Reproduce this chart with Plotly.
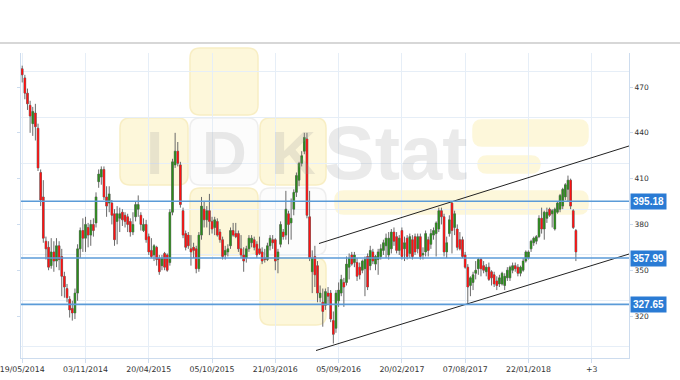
import pandas as pd
import plotly.graph_objects as go

# ---------------- data ----------------
start_date = "2014-05-19"   # weekly candles

opens = [482,476,466,458,446,453,443,414,398,369,365,353,362,356,366,359,346,338,331,325,
         322,335,364,376,371,378,373,380,381,408,411,416,398,394,394,387,382,384,388,386,
         385,382,375,385,390,386,376,380,372,363,360,365,358,353,361,360,355,388,419,428,
         419,389,374,373,364,365,364,351,373,390,383,389,382,378,382,375,370,360,362,366,
         376,374,374,364,360,358,364,368,370,367,364,362,358,357,366,370,370,357,367,375,
         373,387,381,390,401,409,420,428,436,385,349,359,353,332,329,327,335,335,317,312,
         330,335,342,342,352,360,355,355,352,350,351,359,353,362,354,357,359,363,366,360,
         364,375,372,363,376,364,371,361,370,372,364,372,360,362,370,367,373,374,377,389,
         385,362,374,394,378,377,370,370,360,352,340,342,348,351,357,353,349,352,349,347,
         343,341,341,340,345,345,350,353,352,348,350,356,358,364,368,369,372,384,377,384,
         390,387,377,388,390,392,398,403,409,389,376]
highs = [484,478,469,461,457,459,446,416,409,372,369,371,369,371,369,364,349,341,333,330,
         338,367,378,384,385,381,383,384,401,416,418,418,405,405,396,390,392,391,390,388,
         387,384,388,395,399,388,384,383,374,371,367,366,360,360,362,361,390,423,440,434,
         421,391,376,375,373,368,366,375,398,395,392,400,385,385,384,377,372,366,367,378,
         381,381,376,373,365,366,373,373,372,369,372,365,364,368,373,373,371,364,382,377,
         402,389,397,403,414,421,428,440,440,402,363,366,356,340,338,338,339,337,323,337,
         342,347,345,359,361,362,362,358,355,357,359,361,366,364,360,364,367,370,374,375,
         377,378,375,373,378,372,373,374,373,374,374,374,365,376,372,377,378,382,391,391,
         387,372,386,395,389,380,375,372,362,354,346,349,356,358,358,356,354,355,350,349,
         346,347,349,348,352,353,355,355,354,353,358,363,363,370,372,373,386,391,389,391,
         391,390,391,395,400,404,407,412,410,390,377]
lows = [473,462,455,440,438,435,415,392,368,357,350,351,349,352,350,333,332,329,319,317,
        318,330,358,362,362,365,366,372,378,404,406,396,385,388,380,366,367,375,379,378,
        375,372,373,382,385,376,375,368,360,358,356,353,347,350,350,349,353,386,417,418,
        391,371,363,364,353,358,348,349,370,378,378,373,374,373,372,368,357,357,359,364,
        372,371,362,358,349,355,362,365,363,358,360,354,355,356,363,364,350,348,365,370,
        370,367,370,386,398,405,418,426,384,356,335,339,329,329,313,324,328,316,302,309,
        326,333,326,340,344,353,352,343,344,348,333,337,350,354,350,347,357,360,358,357,
        361,366,361,360,357,356,357,358,357,360,361,357,357,359,359,364,370,359,375,380,
        359,358,372,361,373,363,363,358,351,328,333,337,344,347,346,348,346,343,340,339,
        337,339,340,337,343,343,348,349,346,346,349,355,357,362,366,367,371,374,370,381,
        385,378,376,387,388,390,396,395,390,377,356]
closes = [478,466,459,451,454,444,417,396,371,364,352,362,356,366,357,346,339,332,324,322,
          335,364,376,371,380,373,380,376,398,413,416,398,392,400,386,370,387,387,383,382,
          380,375,380,393,393,380,380,370,362,359,366,357,349,358,352,350,388,421,428,420,
          393,373,365,366,362,363,351,373,392,383,389,382,377,383,373,370,359,363,364,376,
          373,372,364,360,356,364,371,371,365,360,361,356,357,366,371,368,356,362,380,372,
          390,380,384,401,412,420,425,437,386,358,358,347,335,335,323,336,333,318,308,335,
          337,344,339,354,358,354,360,346,347,356,357,339,363,356,359,362,364,368,371,371,
          375,369,363,371,359,368,359,372,359,362,372,359,361,374,363,374,376,381,389,385,
          362,368,383,376,387,365,364,359,352,339,345,347,350,357,351,350,352,344,345,341,
          340,345,348,346,350,352,353,351,348,352,356,362,362,369,371,372,384,377,388,388,
          386,389,390,394,399,403,406,409,392,378,362]

levels = [395.18, 357.99, 327.65]
level_labels = ["395.18", "357.99", "327.65"]

channel_upper_dates = ["2016-07-15", "2018-10-16"]
channel_upper_values = [367.5, 431.4]
channel_lower_dates = ["2016-07-07", "2018-10-16"]
channel_lower_values = [297.4, 360.6]

x_tick_dates = ["2014-05-19", "2014-11-03", "2015-04-20", "2015-10-05", "2016-03-21",
                "2016-09-05", "2017-02-20", "2017-08-07", "2018-01-22", "2018-07-09"]
x_tick_labels = ["19/05/2014", "03/11/2014", "20/04/2015", "05/10/2015", "21/03/2016",
                 "05/09/2016", "20/02/2017", "07/08/2017", "22/01/2018", "+3"]
y_tick_values = [320, 350, 380, 410, 440, 470]
y_grid_values = [300, 330, 360, 390, 420, 450, 480]

# ---------------- styling ----------------
RED = "#ff1010"
GREEN = "#2a8c1a"
WICK = "#6a6a6a"
GRID = "#e6eef7"
AXIS = "#cddcee"
LEVEL = "#5b9bd8"
LABEL_BG = "#2a7bd4"

W, H = 680, 380
ML, MR, MT, MB = 21, 51, 53, 22
PW, PH = W - ML - MR, H - MT - MB

dates = pd.date_range(start_date, periods=len(closes), freq="7D")
body_hi = [max(o, c) for o, c in zip(opens, closes)]
body_lo = [min(o, c) for o, c in zip(opens, closes)]

fig = go.Figure()

# wicks
fig.add_trace(go.Candlestick(
    x=dates, open=opens, high=highs, low=lows, close=closes,
    increasing=dict(line=dict(color=WICK, width=1), fillcolor=WICK),
    decreasing=dict(line=dict(color=WICK, width=1), fillcolor=WICK),
    whiskerwidth=0, showlegend=False, hoverinfo="skip"))
# coloured bodies
fig.add_trace(go.Candlestick(
    x=dates, open=opens, high=body_hi, low=body_lo, close=closes,
    increasing=dict(line=dict(color=GREEN, width=0), fillcolor=GREEN),
    decreasing=dict(line=dict(color=RED, width=0), fillcolor=RED),
    whiskerwidth=0, showlegend=False))

# trend channel
fig.add_trace(go.Scatter(x=channel_upper_dates, y=channel_upper_values, mode="lines",
                         line=dict(color="#222222", width=1), showlegend=False, hoverinfo="skip"))
fig.add_trace(go.Scatter(x=channel_lower_dates, y=channel_lower_values, mode="lines",
                         line=dict(color="#222222", width=1), showlegend=False, hoverinfo="skip"))


def px_x(px):
    return (px - ML) / PW


def px_y(py):
    return (MT + PH - py) / PH


def rrect(x0, x1, y0, y1, r=9):
    rx, ry = r / PW, r / PH
    a, b = px_x(x0), px_x(x1)
    top, bot = px_y(y0), px_y(y1)
    return (f"M {a+rx},{top} L {b-rx},{top} Q {b},{top} {b},{top-ry} "
            f"L {b},{bot+ry} Q {b},{bot} {b-rx},{bot} L {a+rx},{bot} "
            f"Q {a},{bot} {a},{bot+ry} L {a},{top-ry} Q {a},{top} {a+rx},{top} Z")


shapes = []
YF, YL = "#fdf7da", "#f8eec4"
WF, WL = "#fcfcfc", "#eeeeee"
for (x0, x1, y0, y1, f, l) in [
    (190, 258, 48, 115, YF, YL),
    (120, 188, 118, 185, YF, YL),
    (190, 258, 118, 185, WF, WL),
    (260, 326, 118, 185, YF, YL),
    (190, 258, 188, 255, YF, YL),
    (260, 326, 188, 255, WF, WL),
    (260, 326, 258, 325, YF, YL),
    (473, 588, 120, 146, YF, YF),
    (478, 540, 156, 173, YF, YF),
    (335, 588, 191, 214, YF, YF),
]:
    shapes.append(dict(type="path", path=rrect(x0, x1, y0, y1, 10 if y1 - y0 > 40 else 9),
                       xref="paper", yref="paper", fillcolor=f,
                       line=dict(color=l, width=1.5), layer="below"))

# level lines
for lv in levels:
    shapes.append(dict(type="line", xref="paper", yref="y", x0=0, x1=1, y0=lv, y1=lv,
                       line=dict(color=LEVEL, width=1.6), layer="above"))

# top separator
shapes.append(dict(type="line", xref="paper", yref="paper", x0=px_x(0), x1=px_x(W),
                   y0=px_y(43), y1=px_y(43), line=dict(color="#cacaca", width=1.5)))

annotations = []
WM = "rgba(150,150,150,0.2)"
for (txt, cx, cy, sz) in [("I", 154, 152, 62), ("D", 224, 152, 62), ("K", 293, 152, 62),
                          ("Stat", 396, 152, 76)]:
    annotations.append(dict(text=txt, x=px_x(cx), y=px_y(cy), xref="paper", yref="paper",
                            showarrow=False, xanchor="center", yanchor="middle",
                            font=dict(family="Liberation Sans", size=sz, color=WM, weight="bold")))

for lv, lab in zip(levels, level_labels):
    annotations.append(dict(text=lab, x=1, xref="paper", y=lv, yref="y", xanchor="left",
                            xshift=1, showarrow=False, bgcolor=LABEL_BG, borderpad=2,
                            font=dict(family="Liberation Sans", size=10, color="white",
                                      weight="bold")))

fig.update_layout(
    width=W, height=H,
    margin=dict(l=ML, r=MR, t=MT, b=MB, autoexpand=False),
    paper_bgcolor="white", plot_bgcolor="white",
    shapes=shapes, annotations=annotations,
    boxgap=0.1,
    showlegend=False,
    xaxis=dict(type="date", range=["2014-05-15 19:00", "2018-10-16"], automargin=False,
               tickmode="array", tickvals=x_tick_dates, ticktext=x_tick_labels,
               ticklabeloverflow="allow",
               showgrid=True, gridcolor=GRID, gridwidth=1,
               showline=True, linecolor=AXIS, linewidth=1,
               ticks="outside", ticklen=4, tickcolor=AXIS,
               tickfont=dict(family="DejaVu Sans", size=7.8, color="#333333"),
               rangeslider=dict(visible=False), zeroline=False, fixedrange=True),
    yaxis=dict(side="right", range=[292.5, 492.3], automargin=False,
               tickmode="array", tickvals=y_tick_values,
               showgrid=False, zeroline=False,
               minor=dict(tickmode="array", tickvals=y_grid_values, showgrid=True,
                          gridcolor=GRID, gridwidth=1, ticks=""),
               showline=True, linecolor=AXIS, linewidth=1, mirror="ticks",
               ticks="outside", ticklen=3, tickcolor=AXIS, fixedrange=True,
               tickfont=dict(family="DejaVu Sans", size=7.5, color="#333333")),
)

fig.write_html("out.html", config={"displayModeBar": False},
               post_script="document.body.style.margin='0';document.body.style.padding='0';")
